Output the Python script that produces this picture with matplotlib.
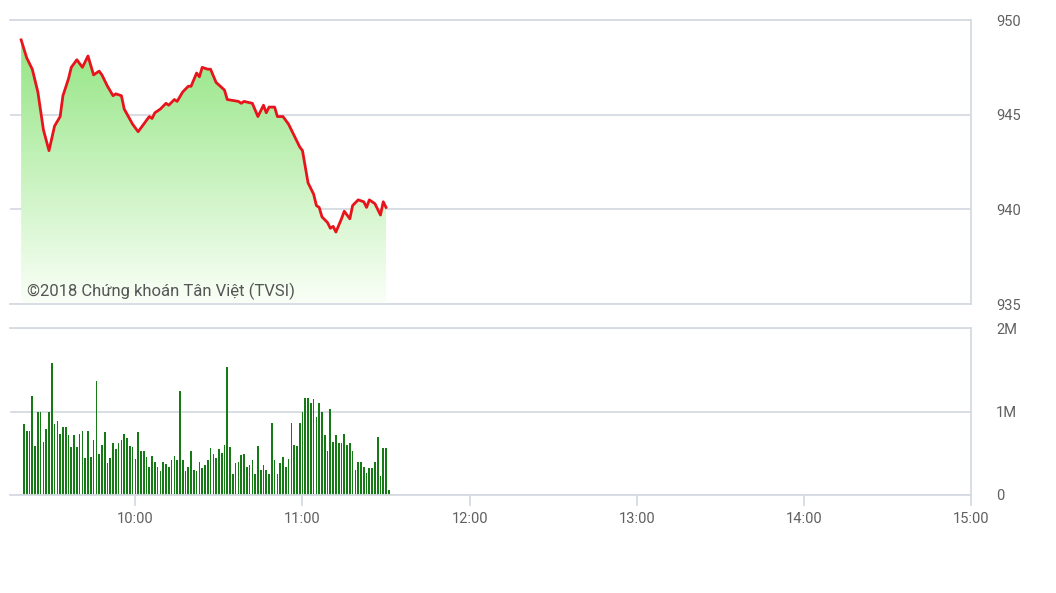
""" Intraday index chart (price line with green gradient fill + volume bars) """

import matplotlib
matplotlib.use('Agg')
import matplotlib.pyplot as plt
import matplotlib.dates as mdates
import numpy as np
import pandas as pd

DAY = '2018-01-01 '

# price trace (time, index value)
price_times = ['09:19', '09:21', '09:23', '09:25', '09:27', '09:29', '09:31', '09:33',
               '09:34', '09:36', '09:37', '09:38', '09:39', '09:41', '09:43', '09:45',
               '09:47', '09:48', '09:50', '09:52', '09:53', '09:55', '09:56', '09:59',
               '10:01', '10:03', '10:05', '10:06', '10:07', '10:09', '10:11', '10:12',
               '10:14', '10:15', '10:17', '10:19', '10:20', '10:22', '10:23', '10:24',
               '10:26', '10:27', '10:29', '10:32', '10:33', '10:37', '10:38', '10:39',
               '10:42', '10:44', '10:46', '10:47', '10:48', '10:50', '10:51', '10:53',
               '10:55', '10:57', '10:59', '11:00', '11:02', '11:04', '11:05', '11:06',
               '11:07', '11:09', '11:10', '11:11', '11:12', '11:14', '11:15', '11:17',
               '11:18', '11:20', '11:22', '11:23', '11:24', '11:26', '11:28', '11:29',
               '11:30']
price_values = [948.95, 948.0, 947.4, 946.2, 944.2, 943.1, 944.4, 944.9,
                946.0, 946.9, 947.5, 947.7, 947.9, 947.5, 948.1, 947.1,
                947.3, 947.1, 946.5, 946.0, 946.1, 946.0, 945.3, 944.5,
                944.1, 944.5, 944.9, 944.8, 945.1, 945.3, 945.6, 945.5,
                945.8, 945.7, 946.2, 946.5, 946.5, 947.2, 947.0, 947.5,
                947.4, 947.4, 946.7, 946.3, 945.8, 945.7, 945.6, 945.7,
                945.6, 944.9, 945.5, 945.1, 945.4, 945.4, 944.9, 944.9,
                944.5, 943.9, 943.3, 943.1, 941.4, 940.8, 940.2, 940.1,
                939.6, 939.3, 939.0, 939.1, 938.8, 939.5, 939.9, 939.5,
                940.2, 940.5, 940.4, 940.1, 940.5, 940.3, 939.7, 940.4,
                940.1]

# volume per minute from 09:20, in millions of shares
volume_start = '09:20'
volume_values = [0.85, 0.77, 0.77, 1.19, 0.59, 1.00, 1.00, 0.63, 0.79, 1.00,
                 1.58, 0.85, 0.89, 0.73, 0.82, 0.81, 0.72, 0.57, 0.72, 0.57,
                 0.73, 0.77, 0.44, 0.77, 0.46, 0.66, 1.36, 0.49, 0.60, 0.76,
                 0.38, 0.44, 0.62, 0.55, 0.62, 0.66, 0.73, 0.68, 0.59, 0.57,
                 0.43, 0.76, 0.53, 0.53, 0.46, 0.34, 0.47, 0.40, 0.34, 0.29,
                 0.40, 0.37, 0.33, 0.42, 0.47, 0.42, 1.24, 0.42, 0.29, 0.33,
                 0.53, 0.30, 0.29, 0.40, 0.32, 0.36, 0.42, 0.56, 0.49, 0.44,
                 0.55, 0.50, 0.60, 1.53, 0.57, 0.25, 0.38, 0.40, 0.48, 0.49,
                 0.33, 0.36, 0.42, 0.25, 0.59, 0.30, 0.36, 0.30, 0.25, 0.86,
                 0.42, 0.25, 0.38, 0.46, 0.34, 0.43, 0.86, 0.60, 0.59, 0.86,
                 0.99, 1.16, 1.16, 1.10, 1.15, 0.94, 1.10, 0.99, 0.72, 0.53,
                 1.03, 0.63, 0.72, 0.62, 0.62, 0.73, 0.60, 0.62, 0.53, 0.30,
                 0.39, 0.39, 0.34, 0.26, 0.32, 0.32, 0.40, 0.69, 0.23, 0.56,
                 0.56, 0.06]

price_ticks = [935, 940, 945, 950]
volume_ticks = [0, 1, 2]
volume_labels = ['0', '1M', '2M']
hour_ticks = ['10:00', '11:00', '12:00', '13:00', '14:00', '15:00']

GRID = '#d6dbe3'
TEXT = '#606060'
plt.rcParams['font.family'] = ['Roboto', 'DejaVu Sans']


def to_time(labels):
    return pd.to_datetime([DAY + t for t in labels])


def style_axis(ax):
    ax.spines['left'].set_visible(False)
    for side in ['top', 'right', 'bottom']:
        ax.spines[side].set_color(GRID)
        ax.spines[side].set_linewidth(1.3)
    ax.yaxis.tick_right()
    ax.tick_params(axis='y', length=0, pad=18, labelcolor=TEXT, labelsize=10.5)
    ax.grid(axis='y', color=GRID, linewidth=1.3)
    ax.set_axisbelow(True)


fig = plt.figure()
fig.set_size_inches(10.56, 5.93)

x_start = pd.Timestamp(DAY + '09:15')
x_end = pd.Timestamp(DAY + '15:00')

# price panel
ax = fig.add_axes([10 / 1056, 1 - 304 / 593, 961 / 1056, 284 / 593])
style_axis(ax)
ptimes = to_time(price_times)
ax.set_xticks([])

# gradient fill under the line
fill = ax.fill_between(ptimes, price_values, price_ticks[0], color='none')
top_c = np.array([0.55, 0.89, 0.48])
bot_c = np.array([0.98, 1.0, 0.97])
t = np.linspace(0, 1, 256)[:, None]
grad = (top_c * (1 - t) + bot_c * t)[:, None, :]
grad = np.repeat(grad, 2, axis=1)
img = ax.imshow(grad, aspect='auto', origin='upper',
                extent=[mdates.date2num(ptimes[0]), mdates.date2num(ptimes[-1]),
                        price_ticks[0], price_ticks[-1]], zorder=1)
img.set_clip_path(fill.get_paths()[0], transform=ax.transData)
ax.plot(ptimes, price_values, color='#e8141c', linewidth=2.0, zorder=3)
ax.set_xlim(x_start, x_end)
ax.set_ylim(price_ticks[0], price_ticks[-1])
ax.set_yticks(price_ticks)

ax.text(27 / 1056, 1 - 291 / 593, '©2018 Chứng khoán Tân Việt (TVSI)',
        transform=fig.transFigure, fontsize=12, color='#555555', va='center', zorder=4)

# volume panel
ax2 = fig.add_axes([10 / 1056, 1 - 495 / 593, 961 / 1056, 167 / 593])
style_axis(ax2)
vtimes = pd.date_range(DAY + volume_start, periods=len(volume_values), freq='min')
ax2.bar(vtimes, volume_values, width=0.6 / 1440, color='#157a15', zorder=2)
ax2.set_xlim(x_start, x_end)
ax2.set_ylim(volume_ticks[0], volume_ticks[-1])
ax2.set_yticks(volume_ticks)
ax2.set_yticklabels(volume_labels)
ax2.set_xticks(to_time(hour_ticks))
ax2.xaxis.set_major_formatter(mdates.DateFormatter('%H:%M'))
ax2.tick_params(axis='x', length=8, width=1.3, color=GRID, labelcolor=TEXT,
                labelsize=10.5, pad=4)

plt.savefig('out.png', dpi=100)
